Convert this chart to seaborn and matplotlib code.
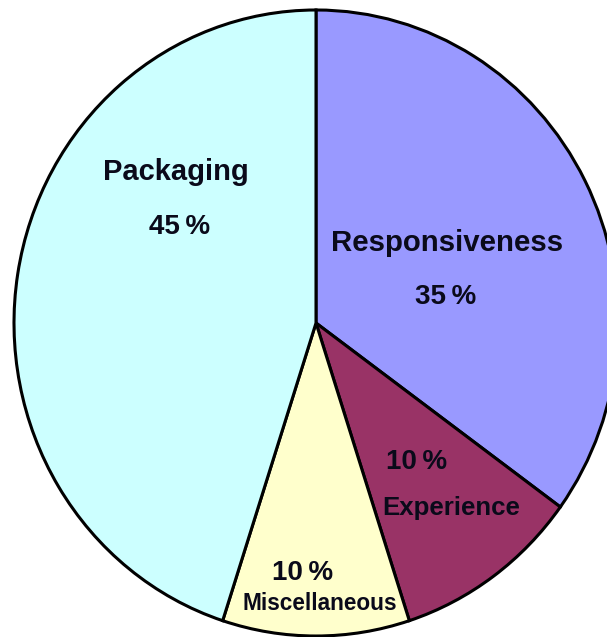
import matplotlib
matplotlib.use("Agg")
import matplotlib.pyplot as plt
import seaborn as sns

sns.set_theme(style="white")
plt.rcParams['font.family'] = ['Liberation Sans', 'DejaVu Sans']

categories = ["Responsiveness", "Experience", "Miscellaneous", "Packaging"]
values = [35, 10, 10, 45]
colors = ["#9999FF", "#993366", "#FFFFCC", "#CCFFFF"]

# label placement (pixel positions in the reference), name and pct
name_pos = [(447, 243), (451, 508), (320, 604), (176, 172)]
pct_pos = [(446, 297), (417, 462), (303, 573), (180, 227)]
name_size = [21.2, 18.6, 16.3, 21]
pct_size = [20, 20, 20, 20]

W, H = 607, 637
fig = plt.figure(figsize=(W / 100, H / 100), dpi=100)
fig.patch.set_facecolor("white")
ax = fig.add_axes([0, 0, 1, 1])

cx, cy, rx, ry = 316, 323, 302, 313

wedges, _ = ax.pie(values, colors=colors, startangle=90, counterclock=False,
                   wedgeprops=dict(edgecolor="black", linewidth=2.2))
ax.set_aspect("auto")
ax.set_xlim(-cx / rx, (W - cx) / rx)
ax.set_ylim(-(H - cy) / ry, cy / ry)
ax.axis("off")

def to_data(p):
    return (p[0] - cx) / rx, (cy - p[1]) / ry

for cat, v, npos, ppos, ns, ps in zip(categories, values, name_pos, pct_pos, name_size, pct_size):
    x, y = to_data(npos)
    ax.text(x, y, cat, ha="center", va="center", fontsize=ns, fontweight="bold", color="#0a0a1a")
    x, y = to_data(ppos)
    ax.text(x, y, f"{v}\u2009%", ha="center", va="center", fontsize=ps, fontweight="bold", color="#0a0a1a")

fig.savefig("out.png", dpi=100)
